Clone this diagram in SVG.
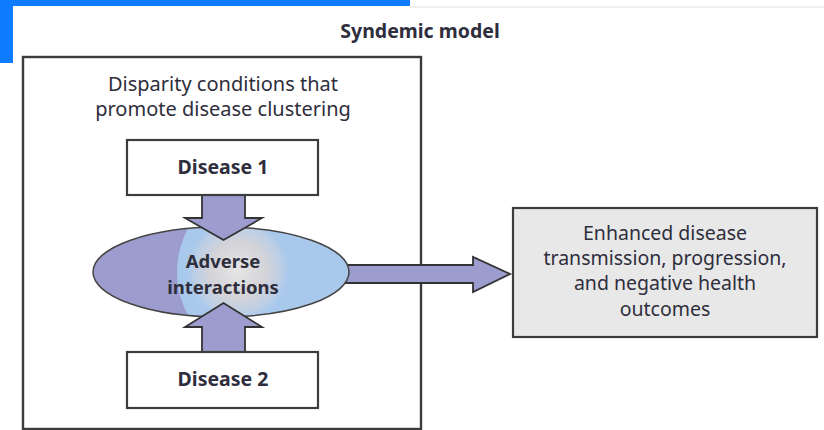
<svg xmlns="http://www.w3.org/2000/svg" width="824" height="430" viewBox="0 0 824 430">
<style>
.t{font-family:"Noto Sans","Open Sans",sans-serif;fill:#2e2e3c;text-anchor:middle}
.b{font-weight:bold}
.box{fill:#fff;stroke:#3c3c3c;stroke-width:2.2}
.arr{fill:#9c9ccf;stroke:#333;stroke-width:1.8;stroke-linejoin:miter}
</style>
<defs>
<clipPath id="ec"><ellipse cx="221" cy="272" rx="128" ry="45"/></clipPath>
<radialGradient id="rg" cx="238" cy="270" r="52" gradientUnits="userSpaceOnUse">
<stop offset="0" stop-color="#e6e6e6"/>
<stop offset="0.55" stop-color="#d3d3d8"/>
<stop offset="0.85" stop-color="#c8d2e2" stop-opacity="0.6"/>
<stop offset="1" stop-color="#a9c9ec" stop-opacity="0"/>
</radialGradient>
</defs>
<rect x="0" y="0" width="410" height="6" fill="#0f7bff"/>
<rect x="0" y="0" width="13" height="63" fill="#0f7bff"/>
<rect x="410" y="6" width="414" height="2" fill="#efefef"/>
<text class="t b" x="420" y="38" font-size="19.5">Syndemic model</text>
<g id="outer">
<rect x="23" y="57" width="398" height="372" fill="#fff" stroke="#3c3c3c" stroke-width="2.4"/>
<text class="t" x="223" y="91" font-size="20">Disparity conditions that</text>
<text class="t" x="223" y="116" font-size="20">promote disease clustering</text>
</g>
<g id="connectors">
<path class="arr" d="M345,265 H473 V257 L510,274 L473,292 V283 H345 Z"/>
</g>
<g id="interactions">
<ellipse cx="221" cy="272" rx="128" ry="45" fill="#9c9ccf"/>
<g clip-path="url(#ec)">
<circle cx="268" cy="272" r="91" fill="#a9c9ec"/>
<circle cx="238" cy="270" r="52" fill="url(#rg)"/>
</g>
<ellipse cx="221" cy="272" rx="128" ry="45" fill="none" stroke="#444" stroke-width="1.5"/>
<text class="t b" x="223" y="268" font-size="18.5">Adverse</text>
<text class="t b" x="223" y="294" font-size="18.5">interactions</text>
</g>
<g id="arrows">
<path class="arr" d="M202,195 H245 V218 H262 L223.5,240 L185,218 H202 Z"/>
<path class="arr" d="M202,352 H245 V327 H262 L223.5,303 L185,327 H202 Z"/>
</g>
<g id="disease1">
<rect class="box" x="127" y="140" width="191" height="55"/>
<text class="t b" x="223" y="174" font-size="19.5">Disease 1</text>
</g>
<g id="disease2">
<rect class="box" x="127" y="352" width="191" height="56"/>
<text class="t b" x="223" y="386" font-size="19.5">Disease 2</text>
</g>
<g id="outcome">
<rect x="513" y="208" width="304" height="129" fill="#e8e8e8" stroke="#3c3c3c" stroke-width="2.2"/>
<text class="t" x="665" y="240" font-size="19.5">Enhanced disease</text>
<text class="t" x="665" y="265" font-size="19.5">transmission, progression,</text>
<text class="t" x="665" y="290" font-size="19.5">and negative health</text>
<text class="t" x="665" y="316" font-size="19.5">outcomes</text>
</g>
</svg>
